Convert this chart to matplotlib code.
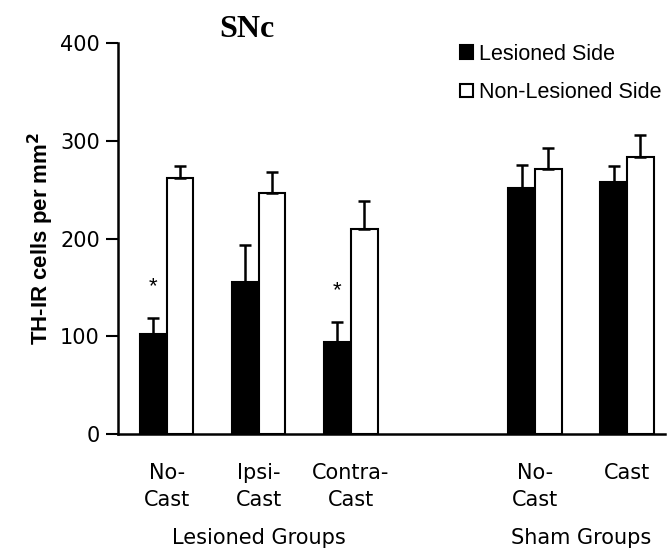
import matplotlib
matplotlib.use("Agg")
import matplotlib.pyplot as plt
import numpy as np

groups = ["No-\nCast", "Ipsi-\nCast", "Contra-\nCast", "No-\nCast", "Cast"]
lesioned = [102, 156, 94, 252, 258]
lesioned_err = [17, 37, 21, 23, 16]
nonlesioned = [262, 247, 210, 271, 283]
nonlesioned_err = [12, 21, 28, 22, 23]
stars = [True, False, True, False, False]
pos = [0, 1, 2, 4, 5]

cond = ["Liberation Sans Narrow", "DejaVu Sans Condensed", "DejaVu Sans"]
plt.rcParams["font.family"] = ["Liberation Sans", "DejaVu Sans"]

fig = plt.figure(figsize=(6.68, 5.57), dpi=100)
ax = fig.add_axes([0.1766, 0.2208, 0.8184, 0.702])

x = np.array(pos)
w = 0.29
ekw = dict(ecolor="black", elinewidth=1.8, capsize=4, capthick=1.8)
b1 = ax.bar(x - w / 2, lesioned, w, color="black", edgecolor="black", linewidth=1.5,
            yerr=[np.zeros(len(x)), lesioned_err], error_kw=ekw, label="Lesioned Side")
b2 = ax.bar(x + w / 2, nonlesioned, w, color="white", edgecolor="black", linewidth=1.5,
            yerr=[np.zeros(len(x)), nonlesioned_err], error_kw=ekw, label="Non-Lesioned Side")

for xi, v, e, s in zip(x, lesioned, lesioned_err, stars):
    if s:
        ax.text(xi - w / 2, v + e + 32, "*", ha="center", va="center", fontsize=16)

ax.set_xlim(-0.53, 5.41)
ax.set_ylim(0, 400)
ax.set_yticks([0, 100, 200, 300, 400])
ax.set_yticklabels(["0", "100", "200", "300", "400"], family=["DejaVu Sans"])
ax.tick_params(axis="y", labelsize=15, length=9, width=1.5, direction="out", pad=4)
ax.set_xticks(x)
ax.set_xticklabels(groups, fontsize=15, family=cond, va="top", linespacing=1.45)
ax.tick_params(axis="x", length=0, pad=21)
for sp in ["top", "right"]:
    ax.spines[sp].set_visible(False)
ax.spines["left"].set_linewidth(1.8)
ax.spines["bottom"].set_linewidth(1.8)

ax.set_ylabel("TH-IR cells per mm$^\\mathbf{2}$", fontsize=16, fontweight="bold", labelpad=3)
ax.set_title("SNc", fontsize=23, fontweight="bold", family=["Liberation Serif", "DejaVu Serif"],
             x=0.235, y=1.0, pad=4)

ax.text(1, -0.265, "Lesioned Groups", transform=ax.get_xaxis_transform(), ha="center",
        va="center", fontsize=15, family=cond)
ax.text(4.5, -0.265, "Sham Groups", transform=ax.get_xaxis_transform(), ha="center",
        va="center", fontsize=15, family=cond)

ax.legend(handles=[b1, b2], loc="upper left", bbox_to_anchor=(0.61, 1.02), frameon=False,
          fontsize=15.5, handlelength=0.6, handleheight=0.6, handletextpad=0.3,
          labelspacing=0.8, borderaxespad=0)

fig.savefig("out.png", dpi=100)
